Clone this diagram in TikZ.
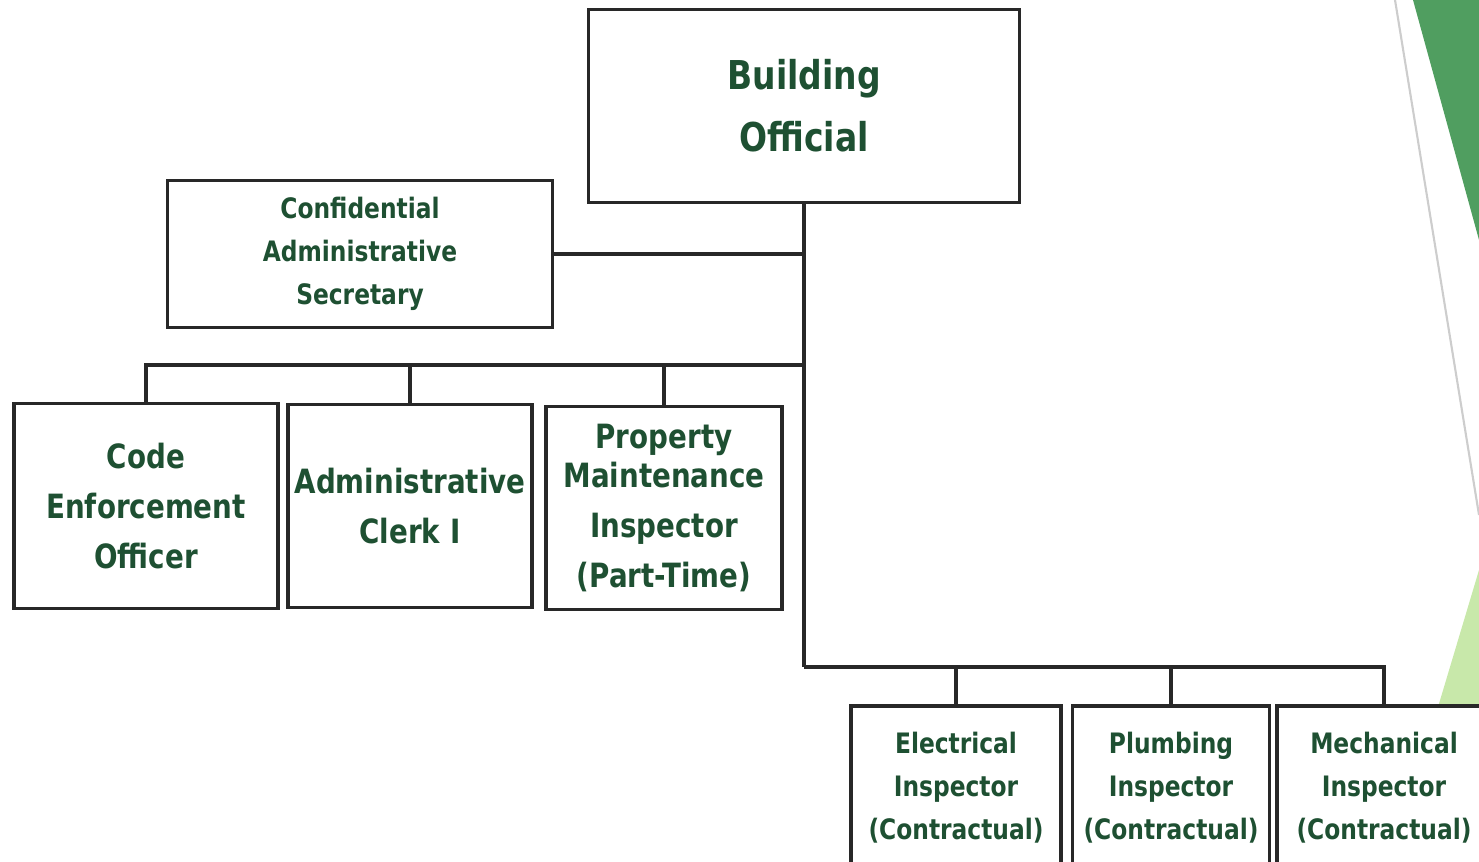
\documentclass[tikz,border=0pt]{standalone}
\usepackage{fontspec}
\usepackage{tikz}
\newfontfamily\orgfont[FakeStretch=0.83]{DejaVu Sans}
\definecolor{orgtext}{RGB}{30,80,50}
\definecolor{orgline}{RGB}{40,40,40}
\definecolor{decodark}{RGB}{80,158,96}
\definecolor{decolight}{RGB}{200,232,170}
\definecolor{decoline}{RGB}{205,205,205}

\begin{document}
\begin{tikzpicture}[x=0.01cm, y=-0.01cm,
    post/.style={draw=orgline, line width=0.9pt, fill=white, align=center, text=orgtext, inner sep=0pt},
    bigpost/.style={post, font=\orgfont\bfseries\fontsize{11.3}{17.6}\selectfont},
    midpost/.style={post, font=\orgfont\bfseries\fontsize{9.5}{14.2}\selectfont},
    smallpost/.style={post, font=\orgfont\bfseries\fontsize{8.0}{12.2}\selectfont},
    link/.style={draw=orgline, line width=0.9pt}]
    \clip (0,0) rectangle (1479,862);

    % Green corner shapes
    \fill[decodark] (1413,0) -- (1479,0) -- (1479,240) -- cycle;
    \draw[decoline, line width=0.6pt] (1395,0) -- (1479,515);
    \fill[decolight] (1479,570) -- (1479,707) -- (1438,707) -- cycle;

    % Top
    \node[bigpost, minimum width=4.3cm, minimum height=1.93cm] (bo) at (804,106) {Building\\Official};
    \node[smallpost, minimum width=3.85cm, minimum height=1.47cm] (sec) at (360,254) {Confidential\\Administrative\\Secretary};

    % Office staff
    \node[midpost, minimum width=2.64cm, minimum height=2.05cm] (ceo) at (146,506) {Code\\Enforcement\\Officer};
    \node[midpost, minimum width=2.44cm, minimum height=2.03cm] (clerk) at (410,506) {Administrative\\Clerk I};
    \node[midpost, minimum width=2.36cm, minimum height=2.03cm] (pmi) at (664,508) {Property\\[-0.3em]Maintenance\\Inspector\\(Part-Time)};

    % Contractual inspectors
    \node[smallpost, minimum width=2.10cm, minimum height=1.64cm] (elec) at (956,788) {Electrical\\Inspector\\(Contractual)};
    \node[smallpost, minimum width=1.97cm, minimum height=1.64cm] (plumb) at (1171,788) {Plumbing\\Inspector\\(Contractual)};
    \node[smallpost, minimum width=2.14cm, minimum height=1.64cm] (mech) at (1384,788) {Mechanical\\Inspector\\(Contractual)};

    % Connectors
    \coordinate (staffbus) at (804,365);
    \coordinate (inspbus) at (804,667);
    \draw[link] (bo.south) -- (inspbus);
    \draw[link] (sec.east) -- (sec.east -| bo.south);
    \foreach \n in {ceo,clerk,pmi}
        \draw[link] (staffbus) -| (\n.north);
    \foreach \n in {elec,plumb,mech}
        \draw[link] (inspbus) -| (\n.north);
\end{tikzpicture}
\end{document}
